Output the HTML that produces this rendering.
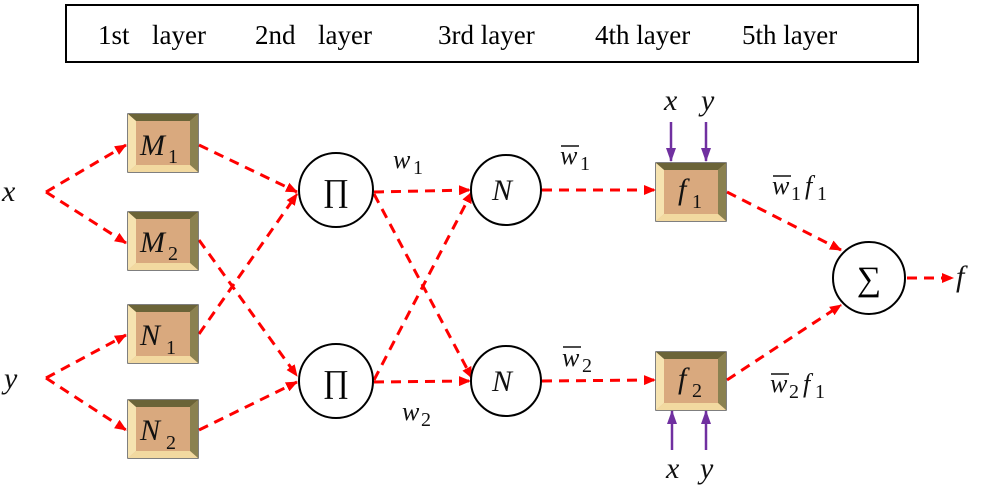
<!DOCTYPE html>
<html><head><meta charset="utf-8"><style>
body{margin:0;background:#fff}
svg, svg text{font-family:"Liberation Serif","DejaVu Serif",serif}
</style></head><body>
<svg width="986" height="488" viewBox="0 0 986 488" xmlns="http://www.w3.org/2000/svg" font-family="Liberation Serif, serif">
<defs>
<marker id="r" markerWidth="12" markerHeight="10" refX="11" refY="5" orient="auto" markerUnits="userSpaceOnUse"><path d="M0,0 L12,5 L0,10 Z" fill="#f00"/></marker>
<marker id="p" markerWidth="14" markerHeight="10" refX="13" refY="5" orient="auto" markerUnits="userSpaceOnUse"><path d="M0,0 L14,5 L0,10 Z" fill="#7030a0"/></marker>
<g id="box">
<rect x="0" y="0" width="70" height="58" fill="#d9a97e" stroke="#555" stroke-width="1.5"/>
<polygon points="0,0 70,0 62,7 8,7" fill="#6b6438"/>
<polygon points="70,0 70,58 62,51 62,7" fill="#8a8150"/>
<polygon points="0,58 70,58 62,51 8,51" fill="#f2d9a0"/>
<polygon points="0,0 8,7 8,51 0,58" fill="#f6e3b0"/>
</g>
</defs>
<rect x="66" y="5" width="852" height="57" fill="#fff" stroke="#000" stroke-width="2"/>
<g font-size="27" font-family="Liberation Serif, serif">
<text x="98" y="44">1st</text><text x="152" y="44">layer</text>
<text x="255" y="44">2nd</text><text x="318" y="44">layer</text>
<text x="438" y="44">3rd layer</text>
<text x="595" y="44">4th layer</text>
<text x="742" y="44">5th layer</text>
</g>
<g stroke="#f00" stroke-width="3" stroke-dasharray="10,7" fill="none" marker-end="url(#r)">
<line x1="46" y1="192" x2="126" y2="145"/>
<line x1="46" y1="192" x2="126" y2="243"/>
<line x1="46" y1="378" x2="126" y2="335"/>
<line x1="46" y1="378" x2="126" y2="430"/>
<line x1="199" y1="145" x2="297" y2="192"/>
<line x1="199" y1="240" x2="297" y2="376"/>
<line x1="199" y1="334" x2="297" y2="194"/>
<line x1="199" y1="430" x2="297" y2="382"/>
<line x1="374" y1="192" x2="470" y2="190"/>
<line x1="374" y1="194" x2="472" y2="378"/>
<line x1="374" y1="380" x2="472" y2="192"/>
<line x1="374" y1="382" x2="470" y2="381"/>
<line x1="542" y1="190" x2="655" y2="190"/>
<line x1="542" y1="381" x2="655" y2="380"/>
<line x1="727" y1="192" x2="841" y2="250"/>
<line x1="727" y1="380" x2="841" y2="305"/>
<line x1="907" y1="278" x2="953" y2="278"/>
</g>
<g stroke="#7030a0" stroke-width="2.5" marker-end="url(#p)">
<line x1="671" y1="122" x2="671" y2="161"/>
<line x1="706" y1="122" x2="706" y2="161"/>
<line x1="672" y1="450" x2="672" y2="411"/>
<line x1="706" y1="450" x2="706" y2="411"/>
</g>
<use href="#box" x="128" y="114"/>
<use href="#box" x="128" y="212"/>
<use href="#box" x="128" y="305"/>
<use href="#box" x="128" y="400"/>
<use href="#box" x="656" y="163"/>
<use href="#box" x="656" y="352"/>
<g fill="#fff" stroke="#000" stroke-width="2">
<circle cx="336" cy="190" r="37"/><circle cx="336" cy="381" r="37"/>
<circle cx="506" cy="190" r="35"/><circle cx="506" cy="381" r="35"/>
<circle cx="869" cy="278" r="36"/>
</g>
<g font-size="30" font-style="italic" fill="#111" font-family="Liberation Serif, serif">
<text x="2" y="201">x</text><text x="4" y="388">y</text>
<text x="140" y="155">M</text><text x="140" y="252">M</text>
<text x="140" y="345">N</text><text x="140" y="440">N</text>
<text x="492" y="200">N</text><text x="492" y="391">N</text>
<text x="678" y="199">f</text><text x="678" y="388">f</text>
<text x="956" y="286">f</text>
<text x="664" y="110">x</text><text x="701" y="110">y</text>
<text x="666" y="478">x</text><text x="700" y="478">y</text>
<text x="393" y="168" font-size="26">w</text><text x="402" y="420" font-size="26">w</text>
<text x="560" y="164" font-size="26">w</text><text x="562" y="366" font-size="26">w</text>
<text x="772" y="194" font-size="26">w</text><text x="805" y="194" font-size="26">f</text>
<text x="770" y="392" font-size="26">w</text><text x="803" y="392" font-size="26">f</text>
</g>
<g font-size="20" fill="#111" font-family="Liberation Serif, serif">
<text x="168" y="163">1</text><text x="168" y="260">2</text>
<text x="166" y="354">1</text><text x="166" y="449">2</text>
<text x="692" y="208">1</text><text x="692" y="397">2</text>
<text x="413" y="174">1</text><text x="421" y="426">2</text>
<text x="580" y="170">1</text><text x="582" y="372">2</text>
<text x="791" y="200">1</text><text x="817" y="200">1</text>
<text x="789" y="398">2</text><text x="815" y="398">1</text>
</g>
<g stroke="#111" stroke-width="1.5">
<line x1="561" y1="146" x2="579" y2="146"/><line x1="563" y1="347" x2="581" y2="347"/>
<line x1="773" y1="176" x2="791" y2="176"/><line x1="771" y1="374" x2="789" y2="374"/>
</g>
<text x="336" y="201" font-size="32" text-anchor="middle" font-family="Liberation Serif, serif">∏</text>
<text x="336" y="392" font-size="32" text-anchor="middle" font-family="Liberation Serif, serif">∏</text>
<text x="869" y="290" font-size="34" text-anchor="middle" font-family="Liberation Serif, serif">∑</text>
</svg>
</body></html>
